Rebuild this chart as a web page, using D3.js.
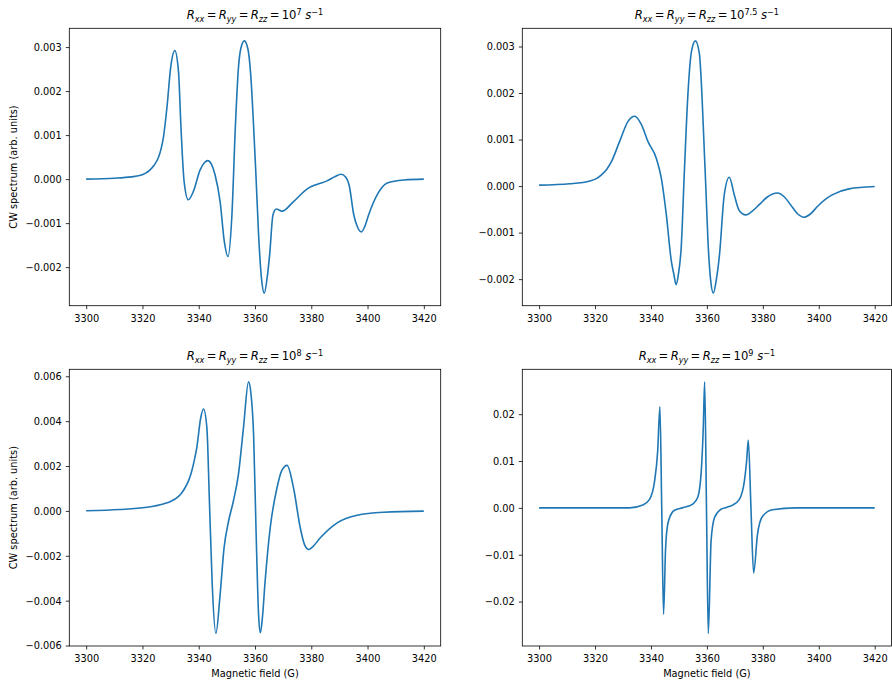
<!DOCTYPE html>
<html>
<head>
<meta charset='utf-8' />
<title>CW spectra vs rotational diffusion</title>
<script src="https://cdn.jsdelivr.net/npm/d3@7"></script>
<style>
  body{
    margin:0;
    padding:0;
    background:#fff;
    font-family:'DejaVu Sans', sans-serif;
  }
  .tick text{
    font-family:'DejaVu Sans', sans-serif;
    font-size:9.8px;
    fill:#000;
  }
  .tick line{
    stroke:#000;
    stroke-width:0.8;
  }
  .frame{
    fill:none;
    stroke:#000;
    stroke-width:0.8;
  }
  .spec{
    fill:none;
    stroke:#1f77b4;
    stroke-width:1.6;
    stroke-linejoin:round;
  }
</style>
</head>
<body>
<svg id="fig" width="892" height="680"></svg>
<script>
  // magnetic field (G) / spectrum pairs, one panel each
  var field7 = [3300,3310,3316,3319,3321,3322.7,3324.2,3325.6,3326.6,3327.4,3328.8,3330,3331.5,3332.8,3333.7,3334.8,3336.3,3338.1,3340.5,3342,3343.2,3344.5,3345.8,3347.6,3349.1,3350.4,3351.8,3353,3354.1,3355,3356.2,3357.5,3358.5,3359.5,3360.4,3361.3,3362.3,3363.3,3364.3,3365.2,3366.4,3367.6,3368.5,3369.6,3373.7,3379.1,3382,3385.6,3388.5,3390.6,3392.2,3393.5,3395.1,3396.5,3397.8,3399,3400.4,3403.4,3407,3412.9,3420]
  var spec7 = [0,0.00002,0.00005,0.00008,0.00013,0.00021,0.00032,0.00048,0.00068,0.00093,0.00169,0.00252,0.00292,0.00245,0.00116,-0.00005,-0.00047,-0.00028,0.00021,0.00037,0.00042,0.00034,0.0001,-0.00051,-0.00142,-0.00176,-0.00081,0.00116,0.00252,0.00298,0.00314,0.00295,0.00235,0.0012,0,-0.0013,-0.00225,-0.00259,-0.00225,-0.00172,-0.00081,-0.00068,-0.0007,-0.00073,-0.00051,-0.0002,-0.00012,-0.00004,0.00006,0.00011,0.00005,-0.00015,-0.00081,-0.0011,-0.0012,-0.00108,-0.00081,-0.00036,-0.00009,-0.00002,0]

  var field75 = [3300,3311,3318.2,3320.5,3322.3,3324.2,3325.9,3328.8,3331.8,3334.2,3336.6,3338.9,3341.9,3343.7,3345.5,3347.3,3348.2,3349,3349.8,3350.8,3352,3353.2,3354.5,3355.9,3357.3,3358.2,3358.9,3359.6,3360.4,3361.3,3362.3,3363.4,3364.5,3366.2,3368,3369.8,3371.5,3373.9,3376,3378.7,3381.5,3385.2,3387.8,3389.9,3392.5,3394.7,3397,3399.5,3402,3404.8,3410.8,3420]
  var spec75 = [0.00002,0.00005,0.00011,0.00016,0.00024,0.00036,0.00053,0.00096,0.00139,0.0015,0.00132,0.00096,0.0006,0.00017,-0.00062,-0.00162,-0.0019,-0.00212,-0.0019,-0.00133,0.00039,0.00196,0.0029,0.00312,0.00285,0.002,0.001,0,-0.0012,-0.002,-0.0023,-0.002,-0.00148,-0.00019,0.00019,-0.00019,-0.00052,-0.00062,-0.00055,-0.0004,-0.00024,-0.00015,-0.00024,-0.0004,-0.0006,-0.00067,-0.0006,-0.00044,-0.0003,-0.00019,-0.00006,-0.00001]

  var field8 = [3300,3312,3321.5,3327.4,3330,3332.2,3333.8,3335.1,3336.4,3337.5,3338.5,3339.3,3340.7,3341.7,3342.9,3343.8,3344.8,3346.1,3347.6,3349,3350.6,3352.3,3354.1,3355.9,3357.7,3358.5,3359.5,3360.4,3361.3,3361.9,3362.6,3363.6,3365.4,3367.8,3369.5,3371.4,3373.7,3376.1,3377.6,3379.1,3380.5,3383.2,3389.2,3396.3,3405.8,3420]
  var spec8 = [0.00001,0.00006,0.00016,0.00031,0.00042,0.00058,0.00078,0.00102,0.00135,0.00177,0.0023,0.00281,0.00414,0.00454,0.0037,0.00043,-0.00328,-0.00546,-0.00373,-0.00165,-0.00046,0.00043,0.00162,0.0037,0.00575,0.0053,0.0034,-0.001,-0.0047,-0.00543,-0.0048,-0.00313,-0.00076,0.00102,0.0018,0.00203,0.00102,-0.00076,-0.0015,-0.00172,-0.0016,-0.0012,-0.00053,-0.00019,-0.00006,-0.00001]

  var field9 = [3300,3332.4,3337.1,3339.5,3341.3,3342.4,3343.2,3343.85,3344.5,3345.2,3346,3347.8,3348.5,3351.2,3353.5,3354.9,3356.7,3357.9,3358.7,3359.2,3359.85,3360.5,3361.5,3362.7,3365,3367,3369.2,3371.6,3373.4,3374.2,3374.8,3375.75,3376.7,3378.1,3379.9,3383.4,3391.8,3420]
  var spec9 = [0,0,0.0006,0.0018,0.0057,0.0121,0.0216,0,-0.0227,-0.0091,-0.0035,-0.0008,-0.0005,0,0.0004,0.0008,0.0022,0.0071,0.017,0.0269,0,-0.0268,-0.007,-0.0021,-0.0003,0.0001,0.0006,0.0018,0.0057,0.01,0.0145,0,-0.0139,-0.0056,-0.0018,-0.0004,0,0]

  var exponents = ["7","7.5","8","9"]
  var fieldTicks = [3300,3320,3340,3360,3380,3400,3420]
  var yTicks7 = [-0.002,-0.001,0,0.001,0.002,0.003]
  var yTicks8 = [-0.006,-0.004,-0.002,0,0.002,0.004,0.006]
  var yTicks9 = [-0.02,-0.01,0,0.01,0.02]

  var panels = [
    {field:field7, spec:spec7, exp:exponents[0], ticks:yTicks7, fmt:".3f", x0:69.3, x1:440.7, y0:28.3, y1:305.7, ylab:true, xlab:false},
    {field:field75, spec:spec75, exp:exponents[1], ticks:yTicks7, fmt:".3f", x0:522.3, x1:891.5, y0:28.3, y1:305.7, ylab:false, xlab:false},
    {field:field8, spec:spec8, exp:exponents[2], ticks:yTicks8, fmt:".3f", x0:69.3, x1:440.7, y0:369.3, y1:646, ylab:true, xlab:true},
    {field:field9, spec:spec9, exp:exponents[3], ticks:yTicks9, fmt:".2f", x0:522.3, x1:891.5, y0:369.3, y1:646, ylab:false, xlab:true}
  ]

  var svg = d3.select("#fig")

  function minusFmt(f){
    var g = d3.format(f)
    return function(v){ return g(v).replace("-","\u2212") }
  }

  panels.forEach(function(p){
    var pts = p.field.map(function(b,i){ return [b, p.spec[i]] })

    var xr = d3.extent(fieldTicks), xm = (xr[1]-xr[0])*0.05
    var x = d3.scaleLinear().domain([xr[0]-xm, xr[1]+xm]).range([p.x0, p.x1])
    var yr = d3.extent(p.spec), ym = (yr[1]-yr[0])*0.05
    var y = d3.scaleLinear().domain([yr[0]-ym, yr[1]+ym]).range([p.y1, p.y0])

    var g = svg.append("g")

    g.append("path")
      .datum(pts)
      .attr("class","spec")
      .attr("d", d3.line().x(function(d){return x(d[0])}).y(function(d){return y(d[1])}).curve(d3.curveMonotoneX))

    g.append("rect").attr("class","frame")
      .attr("x",p.x0).attr("y",p.y0)
      .attr("width",p.x1-p.x0).attr("height",p.y1-p.y0)

    var xa = g.append("g").attr("transform","translate(0,"+p.y1+")")
      .call(d3.axisBottom(x).tickValues(fieldTicks).tickFormat(d3.format("d")).tickSize(3.5).tickPadding(5.5).tickSizeOuter(0))
    xa.select(".domain").remove()

    var ya = g.append("g").attr("transform","translate("+p.x0+",0)")
      .call(d3.axisLeft(y).tickValues(p.ticks).tickFormat(minusFmt(p.fmt)).tickSize(3.5).tickPadding(4.1).tickSizeOuter(0))
    ya.select(".domain").remove()
    ya.selectAll("text").attr("dy","0.34em")

    // title, built like matplotlib mathtext (thin spaces round "=")
    var eq = "\u2009=\u2009"
    var parts = [["R",1,0],["xx",1,1],[eq,0,0],["R",1,0],["yy",1,1],[eq,0,0],["R",1,0],["zz",1,1],[eq+"10",0,0],[p.exp,0,2],[" ",0,0],["s",1,0],["\u22121",0,2]]
    var title = g.append("text")
      .attr("x",(p.x0+p.x1)/2).attr("y",p.y0-9)
      .attr("text-anchor","middle")
      .style("font-family","'DejaVu Sans', sans-serif")
      .style("font-size","11.6px")
    var shift = 0
    parts.forEach(function(t){
      var s = t[2]==1 ? 2.9 : (t[2]==2 ? -4.5 : 0)
      title.append("tspan")
        .attr("dy", s-shift)
        .style("font-style", t[1] ? "italic" : "normal")
        .style("font-size", t[2] ? "8.1px" : "11.6px")
        .text(t[0])
      shift = s
    })

    if(p.ylab){
      var cy = (p.y0+p.y1)/2
      g.append("text")
        .attr("transform","translate(13.5,"+cy+") rotate(-90)")
        .attr("text-anchor","middle").attr("dy","0.35em")
        .style("font-size","9.8px")
        .text("CW spectrum (arb. units)")
    }
    if(p.xlab){
      g.append("text")
        .attr("x",(p.x0+p.x1)/2).attr("y",677)
        .attr("text-anchor","middle")
        .style("font-size","9.8px")
        .text("Magnetic field (G)")
    }
  })
</script>
</body>
</html>
